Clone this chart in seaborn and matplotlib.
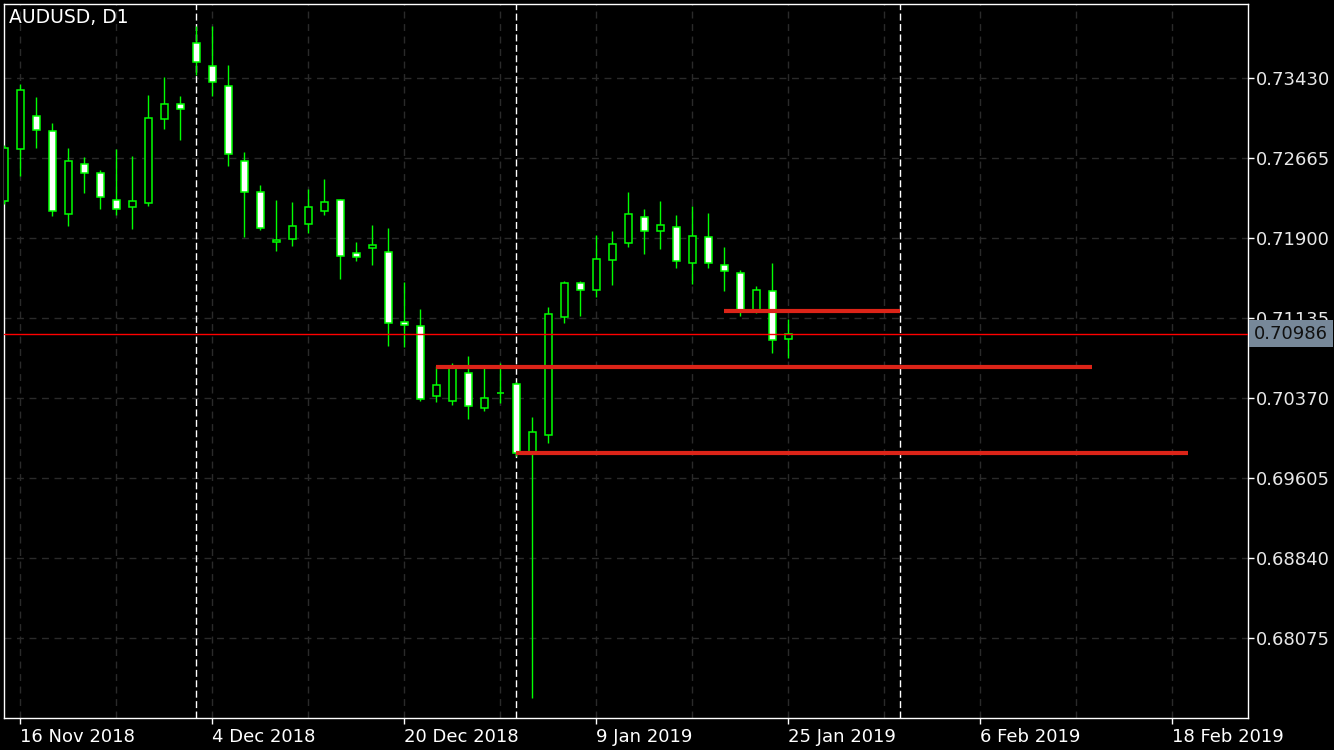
import matplotlib
matplotlib.use("Agg")
import matplotlib.pyplot as plt
import matplotlib.transforms as mtransforms
import numpy as np
import pandas as pd
import seaborn as sns

symbol = "AUDUSD, D1"

dates = pd.to_datetime([
    "2018-11-15", "2018-11-16", "2018-11-19", "2018-11-20", "2018-11-21", "2018-11-22",
    "2018-11-23", "2018-11-26", "2018-11-27", "2018-11-28", "2018-11-29", "2018-11-30",
    "2018-12-03", "2018-12-04", "2018-12-05", "2018-12-06", "2018-12-07", "2018-12-10",
    "2018-12-11", "2018-12-12", "2018-12-13", "2018-12-14", "2018-12-17", "2018-12-18",
    "2018-12-19", "2018-12-20", "2018-12-21", "2018-12-24", "2018-12-26", "2018-12-27",
    "2018-12-28", "2018-12-31", "2019-01-02", "2019-01-03", "2019-01-04", "2019-01-07",
    "2019-01-08", "2019-01-09", "2019-01-10", "2019-01-11", "2019-01-14", "2019-01-15",
    "2019-01-16", "2019-01-17", "2019-01-18", "2019-01-21", "2019-01-22", "2019-01-23",
    "2019-01-24", "2019-01-25",
])

opens = [0.72254, 0.72748, 0.73064, 0.72920, 0.72127, 0.72605, 0.72519, 0.72261, 0.72194, 0.72232,
         0.73035, 0.73179, 0.73762, 0.73542, 0.73351, 0.72633, 0.72337, 0.71859, 0.71888, 0.72031,
         0.72155, 0.72261, 0.71754, 0.71802, 0.71763, 0.71094, 0.71056, 0.70386, 0.70338, 0.70606,
         0.70272, 0.70415, 0.70501, 0.69854, 0.70013, 0.71142, 0.71467, 0.71400, 0.71687, 0.71849,
         0.72098, 0.71964, 0.72002, 0.71658, 0.71907, 0.71639, 0.71562, 0.71211, 0.71390, 0.70931]
highs = [0.72789, 0.73373, 0.73248, 0.73000, 0.72761, 0.72675, 0.72550, 0.72751, 0.72684, 0.73265,
         0.73440, 0.73255, 0.73927, 0.73927, 0.73554, 0.72722, 0.72404, 0.72263, 0.72244, 0.72369,
         0.72464, 0.72270, 0.71862, 0.72024, 0.71996, 0.71479, 0.71221, 0.70676, 0.70702, 0.70772,
         0.70676, 0.70702, 0.70523, 0.70188, 0.71240, 0.71489, 0.71489, 0.71929, 0.71967, 0.72340,
         0.72177, 0.72254, 0.72120, 0.72206, 0.72139, 0.71814, 0.71597, 0.71441, 0.71661, 0.71123]
lows = [0.72225, 0.72496, 0.72764, 0.72113, 0.72018, 0.72333, 0.72180, 0.72123, 0.71989, 0.72209,
        0.72942, 0.72840, 0.73459, 0.73261, 0.72591, 0.71912, 0.71979, 0.71779, 0.71826, 0.71951,
        0.72123, 0.71511, 0.71683, 0.71645, 0.70870, 0.70861, 0.70344, 0.70335, 0.70308, 0.70166,
        0.70249, 0.70325, 0.69815, 0.67498, 0.69937, 0.71090, 0.71157, 0.71339, 0.71453, 0.71817,
        0.71750, 0.71798, 0.71616, 0.71463, 0.71616, 0.71396, 0.71157, 0.71180, 0.70803, 0.70755]
closes = [0.72758, 0.73315, 0.72930, 0.72155, 0.72633, 0.72519, 0.72289, 0.72174, 0.72251, 0.73045,
          0.73179, 0.73131, 0.73580, 0.73389, 0.72700, 0.72337, 0.71993, 0.71881, 0.72012, 0.72194,
          0.72241, 0.71725, 0.71715, 0.71830, 0.71084, 0.71065, 0.70358, 0.70494, 0.70657, 0.70291,
          0.70367, 0.70418, 0.69841, 0.70042, 0.71170, 0.71467, 0.71400, 0.71696, 0.71840, 0.72127,
          0.71964, 0.72021, 0.71677, 0.71916, 0.71658, 0.71582, 0.71207, 0.71400, 0.70922, 0.70986]

last_price = 0.70986
price_ticks = [0.73430, 0.72665, 0.71900, 0.71135, 0.70370, 0.69605, 0.68840, 0.68075]

label_dates = ["2018-11-16", "2018-12-04", "2018-12-20", "2019-01-09",
               "2019-01-25", "2019-02-06", "2019-02-18"]
separator_dates = ["2018-12-03", "2019-01-02", "2019-02-01"]

level_prices = [0.71202, 0.70666, 0.69844]
level_starts = ["2019-01-21", "2018-12-24", "2019-01-02"]
level_ends = ["2019-02-01", "2019-02-13", "2019-02-19"]


def bar_pos(d):
    # bar index for known bars, calendar days after the last bar for the future
    d = pd.Timestamp(d)
    if d in dates:
        return dates.get_loc(d)
    return len(dates) - 1 + (d - dates[-1]).days


sns.set_theme(style="dark", rc={
    "figure.facecolor": "black",
    "axes.facecolor": "black",
    "axes.edgecolor": "white",
    "axes.linewidth": 1.0,
    "text.color": "white",
    "xtick.color": "white",
    "ytick.color": "white",
})
plt.rcParams["font.family"] = ["DejaVu Sans"]

fig = plt.figure(figsize=(13.34, 7.5), dpi=100)
ax = fig.add_axes([4 / 1334, 32 / 750, 1244 / 1334, 714 / 750])

pos = np.arange(len(dates))
o = np.array(opens)
c = np.array(closes)
bull = c >= o
body_low = np.minimum(o, c)
body_h = np.maximum(np.abs(c - o), 0.00003)

ax.vlines(pos, lows, highs, color="#00ff00", lw=1.0, zorder=3)
ax.bar(pos, body_h, bottom=body_low, width=0.44,
       color=np.where(bull, "black", "white"), edgecolor="#00ff00",
       linewidth=1.1, zorder=4)

for d in separator_dates:
    ax.axvline(bar_pos(d), color="white", lw=1.0, ls=(0, (5, 2.5)), zorder=2)

ax.axhline(last_price, color="#ff0000", lw=1.0, zorder=5)
ax.hlines(level_prices, [bar_pos(d) for d in level_starts], [bar_pos(d) for d in level_ends],
          color="#dc2418", lw=3.0, zorder=6)

ax.set_xlim(-0.02, 77.73)
ax.set_ylim(0.67310, 0.74138)

# ticks and grid
label_pos = [bar_pos(d) for d in label_dates]
ax.set_xticks(label_pos)
ax.set_xticklabels([pd.Timestamp(d).strftime("%-d %b %Y") for d in label_dates],
                   ha="left", fontsize=13)
ax.set_xticks([p + 6 for p in label_pos[:-1]], minor=True)
ax.tick_params(axis="x", which="major", length=4, width=1, pad=3, bottom=True)
ax.tick_params(axis="x", which="minor", length=0)

ax.yaxis.tick_right()
ax.set_yticks(price_ticks)
ax.set_yticklabels([f"{p:.5f}" for p in price_ticks], fontsize=13, color="#e8e8e8")
ax.tick_params(axis="y", length=4, width=1, pad=2, right=True, left=False)

ax.set_axisbelow(True)
ax.grid(True, which="both", color="#2a2a2a", lw=1.0, ls=(0, (5, 4)))

for s in ax.spines.values():
    s.set_visible(True)
    s.set_color("white")

ax.text(0.004, 0.981, symbol, transform=ax.transAxes, ha="left", va="center",
        fontsize=13.5, color="white", zorder=10)

trans = mtransforms.offset_copy(
    mtransforms.blended_transform_factory(ax.transAxes, ax.transData),
    fig=fig, x=6, y=0, units="dots")
ax.text(1.0, last_price, f"{last_price:.5f}", transform=trans, ha="left", va="center",
        fontsize=13, color="#111111", clip_on=False, zorder=10,
        bbox=dict(boxstyle="square,pad=0.25", fc="#778899", ec="none"))

fig.savefig("out.png", dpi=100, facecolor="black")
